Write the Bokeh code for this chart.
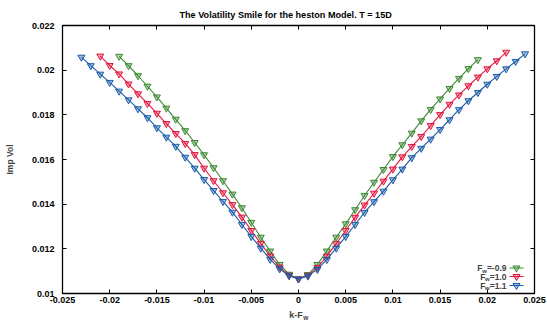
from bokeh.plotting import figure
from bokeh.models import Range1d, FixedTicker, LinearAxis, Label
from bokeh.embed import file_html
from bokeh.resources import INLINE

# ---------------- data ----------------
x_green = [-0.019, -0.018, -0.017, -0.016, -0.015, -0.014, -0.013, -0.012, -0.011, -0.010,
           -0.009, -0.008, -0.007, -0.006, -0.005, -0.004, -0.003, -0.002, -0.001, 0.0,
           0.001, 0.002, 0.003, 0.004, 0.005, 0.006, 0.007, 0.008, 0.009, 0.010,
           0.011, 0.012, 0.013, 0.014, 0.015, 0.016, 0.017, 0.018, 0.019]
v_green = [0.02062, 0.02020, 0.01975, 0.01928, 0.01880, 0.01830, 0.01780, 0.01729, 0.01676, 0.01621,
           0.01563, 0.01505, 0.01445, 0.01384, 0.01318, 0.01252, 0.01190, 0.01130, 0.01086, 0.01065,
           0.01085, 0.01130, 0.01190, 0.01252, 0.01312, 0.01375, 0.01439, 0.01498, 0.01555, 0.01613,
           0.01666, 0.01718, 0.01773, 0.01824, 0.01871, 0.01918, 0.01963, 0.02007, 0.02047]

x_red = [-0.021, -0.020, -0.019, -0.018, -0.017, -0.016, -0.015, -0.014, -0.013, -0.012,
         -0.011, -0.010, -0.009, -0.008, -0.007, -0.006, -0.005, -0.004, -0.003, -0.002,
         -0.001, 0.0, 0.001, 0.002, 0.003, 0.004, 0.005, 0.006, 0.007, 0.008,
         0.009, 0.010, 0.011, 0.012, 0.013, 0.014, 0.015, 0.016, 0.017, 0.018,
         0.019, 0.020, 0.021, 0.022]
v_red = [0.02063, 0.02021, 0.01983, 0.01938, 0.01894, 0.01851, 0.01807, 0.01761, 0.01716, 0.01672,
         0.01622, 0.01561, 0.01505, 0.01451, 0.01398, 0.01342, 0.01282, 0.01224, 0.01168, 0.01118,
         0.01082, 0.01065, 0.01081, 0.01116, 0.01167, 0.01223, 0.01282, 0.01341, 0.01396, 0.01449,
         0.01503, 0.01557, 0.01612, 0.01658, 0.01703, 0.01752, 0.01801, 0.01847, 0.01889, 0.01930,
         0.01969, 0.02006, 0.02042, 0.02080]

x_blue = [-0.023, -0.022, -0.021, -0.020, -0.019, -0.018, -0.017, -0.016, -0.015, -0.014,
          -0.013, -0.012, -0.011, -0.010, -0.009, -0.008, -0.007, -0.006, -0.005, -0.004,
          -0.003, -0.002, -0.001, 0.0, 0.001, 0.002, 0.003, 0.004, 0.005, 0.006,
          0.007, 0.008, 0.009, 0.010, 0.011, 0.012, 0.013, 0.014, 0.015, 0.016,
          0.017, 0.018, 0.019, 0.020, 0.021, 0.022, 0.023, 0.024]
v_blue = [0.02058, 0.02020, 0.01982, 0.01945, 0.01906, 0.01867, 0.01827, 0.01787, 0.01742, 0.01700,
          0.01659, 0.01610, 0.01561, 0.01510, 0.01461, 0.01412, 0.01364, 0.01309, 0.01255, 0.01203,
          0.01153, 0.01110, 0.01080, 0.01065, 0.01078, 0.01108, 0.01152, 0.01203, 0.01255, 0.01309,
          0.01363, 0.01411, 0.01458, 0.01509, 0.01557, 0.01608, 0.01650, 0.01691, 0.01734, 0.01778,
          0.01823, 0.01863, 0.01900, 0.01937, 0.01972, 0.02006, 0.02039, 0.02073]

series_values = ["=-0.9", "=1.0", "=1.1"]
x_ticks = [-0.025, -0.02, -0.015, -0.01, -0.005, 0.0, 0.005, 0.01, 0.015, 0.02, 0.025]
x_tick_labels = ["-0.025", "-0.02", "-0.015", "-0.01", "-0.005", "0", "0.005", "0.01", "0.015", "0.02", "0.025"]
y_ticks = [0.01, 0.012, 0.014, 0.016, 0.018, 0.02, 0.022]
y_tick_labels = ["0.01", "0.012", "0.014", "0.016", "0.018", "0.02", "0.022"]

title_text = "The Volatility Smile for the heston Model. T = 15D"
y_label = "Imp Vol"
x_label_main = "k-F"
x_label_sub = "w"

# ---------------- style ----------------
FONT = "Liberation Sans"
C_GREEN = "#3e8a35"
C_RED = "#e3173f"
C_BLUE = "#1b5ca8"
NBSP = "\u00a0"

W, H = 547, 323
FL, FR, FT, FB = 62, 534, 25, 293
X0, X1 = -0.025, 0.025
Y0, Y1 = 0.01, 0.022

# approximate Helvetica-bold advance widths (em)
ADV = {"0": 0.556, "1": 0.556, "9": 0.556, ".": 0.278, "=": 0.584, "-": 0.333,
       "F": 0.611, "w": 0.778, "k": 0.556}


def text_w(s, size):
    return sum(ADV.get(ch, 0.556) for ch in s) * size


def dx(px):
    return X0 + (px - FL) * (X1 - X0) / (FR - FL)


def dy(py):
    return Y1 - (py - FT) * (Y1 - Y0) / (FB - FT)


p = figure(width=W, height=H, output_backend="svg", toolbar_location=None,
           x_range=Range1d(X0, X1), y_range=Range1d(Y0, Y1),
           min_border_left=FL, min_border_right=W - FR,
           min_border_top=FT, min_border_bottom=H - FB)
p.background_fill_color = "white"
p.border_fill_color = "white"
p.outline_line_color = "black"
p.outline_line_width = 1.3
p.xgrid.visible = False
p.ygrid.visible = False

# title
p.title.text = title_text
p.title.align = "left"
p.title.offset = 117
p.title.text_font = FONT
p.title.text_font_size = "9.1px"
p.title.text_font_style = "bold"
p.title.text_color = "black"
p.title.standoff = 11

# axes
for ax in p.xaxis + p.yaxis:
    ax.axis_line_color = None
    ax.major_tick_in = 4
    ax.major_tick_out = 0
    ax.minor_tick_in = 0
    ax.minor_tick_out = 0
    ax.major_tick_line_color = "black"
    ax.major_tick_line_width = 1
    ax.major_label_text_font = FONT
    ax.major_label_text_font_size = "9px"
    ax.major_label_text_font_style = "bold"
    ax.major_label_text_color = "black"

XL_SIZE = 9.0
XL_SUB = 6.5
p.xaxis.ticker = FixedTicker(ticks=x_ticks)
p.xaxis.major_label_overrides = dict(zip(x_ticks, x_tick_labels))
p.xaxis.major_label_standoff = 3
# main part of the x label, shifted left (trailing nbsp) to leave room for the subscript
p.xaxis.axis_label = x_label_main + NBSP * 2
p.xaxis.axis_label_text_font = FONT
p.xaxis.axis_label_text_font_size = f"{XL_SIZE}px"
p.xaxis.axis_label_text_font_style = "bold"
p.xaxis.axis_label_standoff = 4

p.yaxis.ticker = FixedTicker(ticks=y_ticks)
p.yaxis.major_label_overrides = dict(zip(y_ticks, y_tick_labels))
p.yaxis.major_label_standoff = 8
p.yaxis.axis_label = y_label
p.yaxis.axis_label_text_font = FONT
p.yaxis.axis_label_text_font_size = "8.5px"
p.yaxis.axis_label_text_font_style = "bold"
p.yaxis.axis_label_standoff = 14

# subscript "w" of the x label: a tick-less axis whose label is pulled up next to "k-F"
sub_ax = LinearAxis(ticker=FixedTicker(ticks=[]), axis_line_color=None,
                    major_tick_in=0, major_tick_out=0, minor_tick_in=0, minor_tick_out=0,
                    major_label_text_font_size="1px", major_label_text_color=None,
                    major_label_standoff=0,
                    axis_label=NBSP * 8 + x_label_sub, axis_label_text_font=FONT,
                    axis_label_text_font_size=f"{XL_SUB}px", axis_label_text_font_style="bold",
                    axis_label_standoff=-9)
p.add_layout(sub_ax, "below")

# mirrored ticks (no labels drawn)
top_ax = LinearAxis(ticker=FixedTicker(ticks=x_ticks), axis_line_color=None,
                    major_tick_in=4, major_tick_out=0, minor_tick_in=0, minor_tick_out=0,
                    major_label_text_font_size="1px", major_label_text_color=None,
                    major_label_standoff=0)
right_ax = LinearAxis(ticker=FixedTicker(ticks=y_ticks), axis_line_color=None,
                      major_tick_in=4, major_tick_out=0, minor_tick_in=0, minor_tick_out=0,
                      major_label_text_font_size="1px", major_label_text_color=None,
                      major_label_standoff=0)
p.add_layout(top_ax, "above")
p.add_layout(right_ax, "right")

# series
series = [(x_green, v_green, C_GREEN), (x_red, v_red, C_RED), (x_blue, v_blue, C_BLUE)]
for xs, vs, c in series:
    p.line(xs, vs, line_color=c, line_width=1.1)
    p.scatter(xs, vs, marker="inverted_triangle", size=7, line_color=c, line_width=1,
              fill_color=c, fill_alpha=0.4)

# legend (drawn by hand, gnuplot style)
LG_SIZE = 8.5
LG_SUB = 6.0
rows_py = [267.5, 276.0, 285.0]
for (xs, vs, c), name, ry in zip(series, series_values, rows_py):
    right = 506
    wv = text_w(name, LG_SIZE)
    ww = text_w("w", LG_SUB)
    p.add_layout(Label(x=right - FL, y=-(ry - FB), x_units="screen", y_units="screen",
                       text=name, text_font=FONT, text_font_size=f"{LG_SIZE}px",
                       text_font_style="bold", text_align="right", text_baseline="middle"))
    p.add_layout(Label(x=right - wv - FL, y=-(ry + 2.5 - FB), x_units="screen", y_units="screen",
                       text="w", text_font=FONT, text_font_size=f"{LG_SUB}px",
                       text_font_style="bold", text_align="right", text_baseline="middle"))
    p.add_layout(Label(x=right - wv - ww + 0.3 - FL, y=-(ry - FB), x_units="screen", y_units="screen",
                       text="F", text_font=FONT, text_font_size=f"{LG_SIZE}px",
                       text_font_style="bold", text_align="right", text_baseline="middle"))
    p.line([dx(509), dx(523)], [dy(ry), dy(ry)], line_color=c, line_width=1.1)
    p.scatter([dx(516)], [dy(ry)], marker="inverted_triangle", size=7, line_color=c,
              line_width=1, fill_color=c, fill_alpha=0.4)

open("out.html", "w").write(file_html(p, INLINE))
